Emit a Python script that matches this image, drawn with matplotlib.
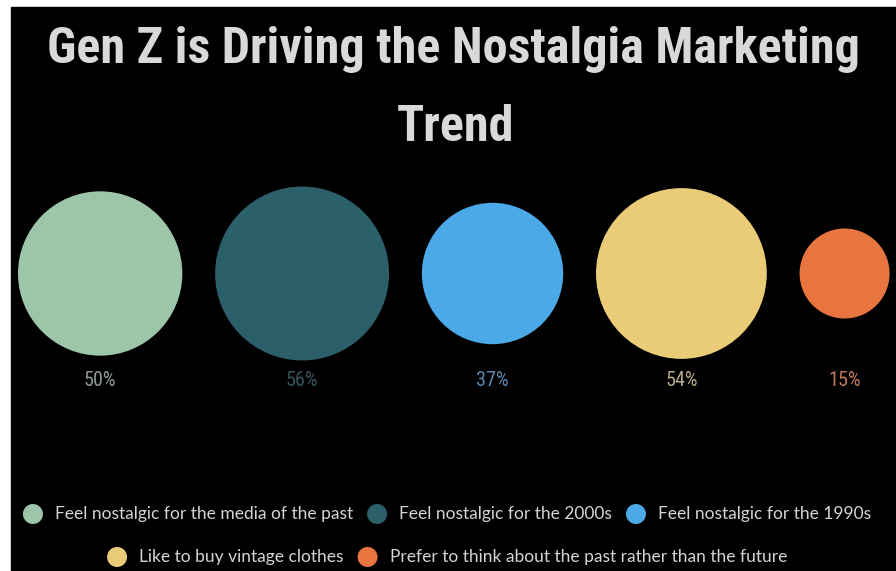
import matplotlib
matplotlib.use('Agg')
import numpy as np
import matplotlib.pyplot as plt
from matplotlib.patches import Circle, Rectangle
from matplotlib import font_manager


title_lines = ['Gen Z is Driving the Nostalgia Marketing', 'Trend']
labels = [
    'Feel nostalgic for the media of the past',
    'Feel nostalgic for the 2000s',
    'Feel nostalgic for the 1990s',
    'Like to buy vintage clothes',
    'Prefer to think about the past rather than the future',
]
values = [50, 56, 37, 54, 15]
colors = ['#9cc5a9', '#2b5f69', '#4aa9e6', '#eacb78', '#e8743f']
pct_colors = ['#8d9a92', '#35545c', '#5b87ae', '#b5a987', '#c0785c']
legend_rows = [[0, 1, 2], [3, 4]]

installed = {f.name for f in font_manager.fontManager.ttflist}
narrow = next((f for f in ['Roboto Condensed', 'Liberation Sans Narrow',
                           'DejaVu Sans Condensed'] if f in installed),
              'DejaVu Sans')
body = 'Lato' if 'Lato' in installed else 'DejaVu Sans'

W, H = 896, 571
fig = plt.figure(figsize=(W / 100, H / 100), dpi=100, facecolor='white')
ax = fig.add_axes([0, 0, 1, 1])
ax.set_xlim(0, W)
ax.set_ylim(H, 0)
ax.axis('off')
ax.add_patch(Rectangle((11, 7), W - 11, H - 7, color='black', zorder=0))

renderer = fig.canvas.get_renderer()


def width_of(t):
    return t.get_window_extent(renderer).width


# title, sized so the first line spans the panel
cx = (11 + W) / 2
t1 = ax.text(cx, 63, title_lines[0], ha='center', va='baseline',
             fontsize=40, fontweight='bold', family=narrow, color='#d9d9d9')
tsize = 40 * 811 / width_of(t1)
t1.set_fontsize(tsize)
ax.text(cx + 2, 141, title_lines[1], ha='center', va='baseline',
        fontsize=tsize, fontweight='bold', family=narrow, color='#d9d9d9')

# bubbles: area ~ value, laid side by side with a fixed gap
k = 11.62
gap = 32.8
cy = 273.5
radii = k * np.sqrt(values)
xs = []
edge = 18
for r in radii:
    xs.append(edge + r)
    edge += 2 * r + gap

for x, r, v, c, pc in zip(xs, radii, values, colors, pct_colors):
    ax.add_patch(Circle((x, cy), r, color=c, lw=0))
    ax.text(x, 381, f'{v}%', ha='center', va='center', fontsize=14.5,
            family=narrow, color=pc)

# legend rows, each one centred on its own
probe = ax.text(0, 0, labels[0], fontsize=12, family=body)
lsize = 12 * 296 / width_of(probe)
probe.remove()

mr = 10
row_y = [514, 557]
for row, y in zip(legend_rows, row_y):
    texts = [ax.text(0, y, labels[i], ha='left', va='center', fontsize=lsize,
                     family=body, color='#d4d4d4') for i in row]
    widths = [width_of(t) for t in texts]
    total = sum(2 * mr + 12 + w for w in widths) + 14 * (len(row) - 1)
    x = 447 - total / 2
    for i, t, w in zip(row, texts, widths):
        ax.add_patch(Circle((x + mr, y), mr, color=colors[i], lw=0))
        t.set_x(x + 2 * mr + 12)
        x += 2 * mr + 12 + w + 14

fig.savefig('out.png', dpi=100, facecolor=fig.get_facecolor())
